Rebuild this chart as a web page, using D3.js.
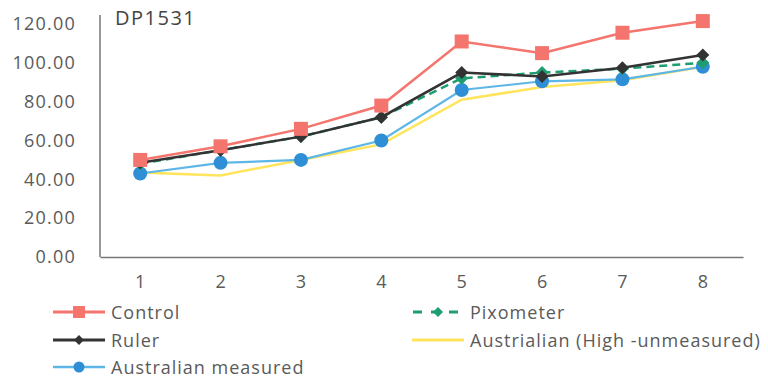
<!DOCTYPE html>
<html><head><meta charset="utf-8">
<script src="https://cdn.jsdelivr.net/npm/d3@7"></script>
<style>body{margin:0;background:#fff;}svg{display:block;font-family:"Open Sans","Noto Sans",sans-serif;}</style>
</head><body><svg id="c" width="768" height="381"></svg>
<script>
const categories = ["1","2","3","4","5","6","7","8"];
const yTicks = [0,20,40,60,80,100,120];
const control = [50,57,66,78,111,105,115.5,121.5];
const pixometer = [48,55,62,72,92,95,97,100];
const ruler = [48.5,55,62,72,95,93,97.5,104];
const australianHigh = [43.5,42,50,58,81,87.5,91,98];
const australianMeasured = [43,48.5,50,60,86,90.5,91.5,98];

const series = [
  {name:"Control", values:control, color:"#F4756D", marker:"square", dash:null, width:2.5},
  {name:"Pixometer", values:pixometer, color:"#1E9E6E", marker:"diamond", dash:"8,5", width:2.5},
  {name:"Ruler", values:ruler, color:"#333333", marker:"diamond", dash:null, width:2.5},
  {name:"Austrialian (High -unmeasured)", values:australianHigh, color:"#FFE45C", marker:"none", dash:null, width:2.5},
  {name:"Australian measured", values:australianMeasured, color:"#5DB6E6", marker:"circle", mcolor:"#2F8FD6", dash:null, width:2.2}
];
const drawOrder = [3,4,1,2,0];

const svg = d3.select("#c");
const x = d3.scaleBand().domain(categories).range([100,743]);
const y = d3.scaleLinear().domain([0,120]).range([257,24]);
const txt = "#5a5a5a";

const yAx = svg.append("g").attr("transform","translate(100,0)")
  .call(d3.axisLeft(y).tickValues(yTicks).tickFormat(d3.format(".2f")).tickSize(0).tickPadding(24));
yAx.select(".domain").attr("stroke","#777").attr("stroke-width",1.5).attr("d","M0,257V15");
yAx.selectAll("text").attr("font-size",18).attr("letter-spacing",1.2).attr("fill",txt).attr("font-family","'Open Sans',sans-serif");

const xAx = svg.append("g").attr("transform","translate(0,257)")
  .call(d3.axisBottom(x).tickSize(0).tickPadding(18));
xAx.select(".domain").attr("stroke","#777").attr("stroke-width",1.5);
xAx.selectAll("text").attr("font-size",18).attr("fill",txt).attr("font-family","'Open Sans',sans-serif");

svg.append("text").attr("x",115).attr("y",25).attr("font-size",20).attr("letter-spacing",1.5).attr("fill","#444").text("DP1531");

const line = d3.line().x((d,i)=>x(categories[i])+x.bandwidth()/2).y(d=>y(d));

function marker(g, type, cx, cy, color){
  if(type==="square") g.append("rect").attr("x",cx-7).attr("y",cy-7).attr("width",14).attr("height",14).attr("fill",color);
  else if(type==="diamond") g.append("path").attr("d",`M${cx},${cy-6.5}L${cx+6.5},${cy}L${cx},${cy+6.5}L${cx-6.5},${cy}Z`).attr("fill",color);
  else if(type==="circle") g.append("circle").attr("cx",cx).attr("cy",cy).attr("r",7).attr("fill",color);
}

drawOrder.forEach(k=>{
  const s = series[k];
  const g = svg.append("g");
  g.append("path").datum(s.values).attr("d",line).attr("fill","none")
    .attr("stroke",s.color).attr("stroke-width",s.width).attr("stroke-dasharray",s.dash);
  s.values.forEach((v,i)=>marker(g,s.marker,x(categories[i])+x.bandwidth()/2,y(v),s.mcolor||s.color));
});

const legendPos = [[53,312],[412,312],[53,340],[412,340],[53,367]];
series.forEach((s,k)=>{
  const [lx,ly] = legendPos[k];
  const g = svg.append("g");
  const L = 52, c = lx+L/2;
  g.append("line").attr("x1",lx).attr("x2",lx+L).attr("y1",ly).attr("y2",ly)
    .attr("stroke",s.color).attr("stroke-width",s.width+0.5).attr("stroke-dasharray",s.dash?"9,9":null)
    .attr("stroke-dashoffset",s.dash?-1:null);
  if(s.marker==="square") g.append("rect").attr("x",c-6).attr("y",ly-6).attr("width",12).attr("height",12).attr("fill",s.color);
  else if(s.marker==="diamond") g.append("path").attr("d",`M${c},${ly-5}L${c+5},${ly}L${c},${ly+5}L${c-5},${ly}Z`).attr("fill",s.color);
  else if(s.marker==="circle") g.append("circle").attr("cx",c).attr("cy",ly).attr("r",5.5).attr("fill",s.mcolor||s.color);
  g.append("text").attr("x",lx+58).attr("y",ly+6.5).attr("font-size",18).attr("letter-spacing",1).attr("fill",txt).text(s.name);
});
</script></body></html>
